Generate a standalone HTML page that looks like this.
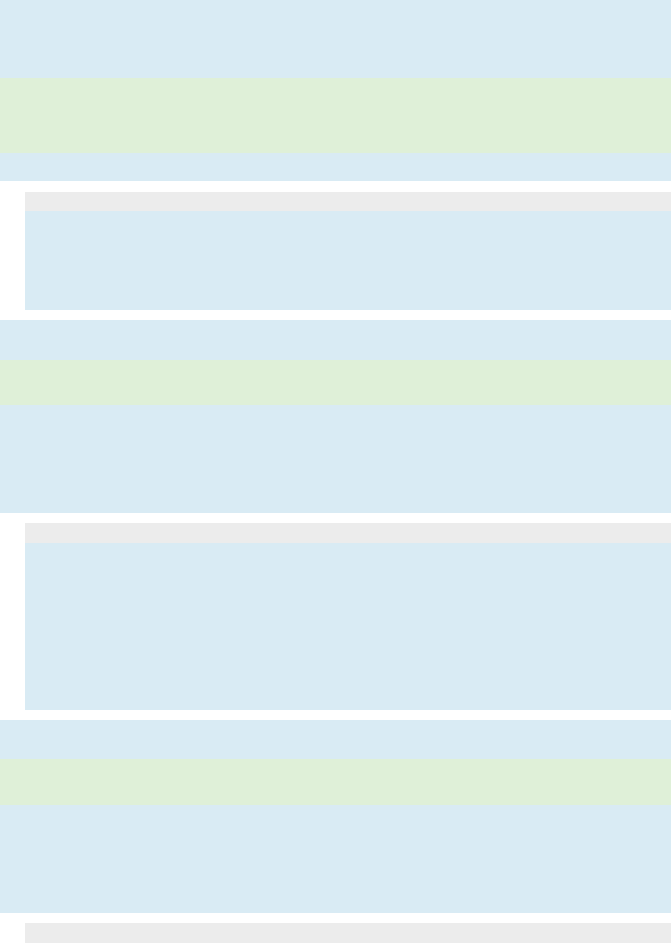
<!DOCTYPE html>
<html><head><meta charset="utf-8"><style>
html,body{margin:0;padding:0;width:671px;height:943px;overflow:hidden;background:#fff;position:relative}
div{position:absolute;right:0}
.b{background:#d9ebf4}.g{background:#dff0d8}.y{background:#ececec}
</style></head><body>
<div class="b" style="left:0;top:0;height:78px"></div>
<div class="g" style="left:0;top:78px;height:75px"></div>
<div class="b" style="left:0;top:153px;height:28px"></div>
<div class="y" style="left:25px;top:192px;height:19px"></div>
<div class="b" style="left:25px;top:211px;height:99px"></div>
<div class="b" style="left:0;top:320px;height:40px"></div>
<div class="g" style="left:0;top:360px;height:45px"></div>
<div class="b" style="left:0;top:405px;height:108px"></div>
<div class="y" style="left:25px;top:523px;height:20px"></div>
<div class="b" style="left:25px;top:543px;height:167px"></div>
<div class="b" style="left:0;top:720px;height:39px"></div>
<div class="g" style="left:0;top:759px;height:46px"></div>
<div class="b" style="left:0;top:805px;height:108px"></div>
<div class="y" style="left:25px;top:923px;height:20px"></div>
</body></html>
